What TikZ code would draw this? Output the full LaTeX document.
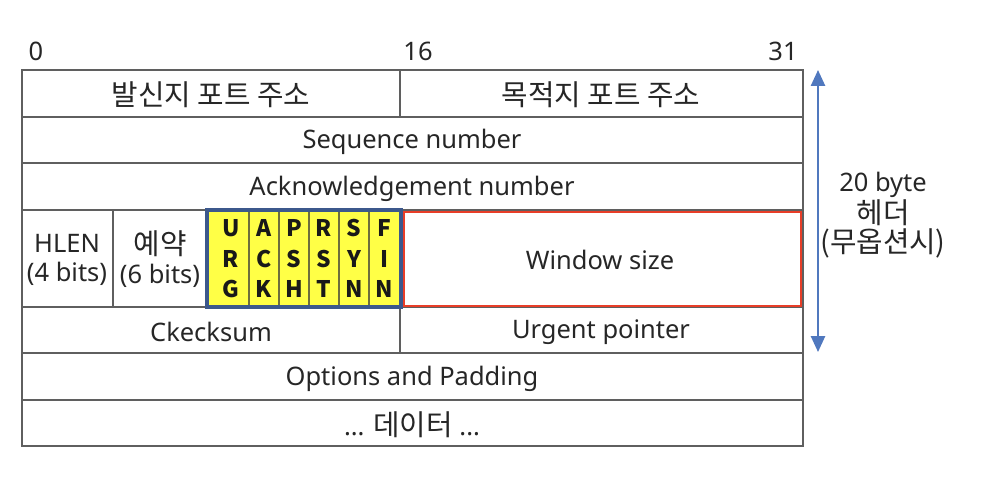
\documentclass[tikz,border=0pt]{standalone}
\usepackage{fontspec}
\setmainfont{Noto Sans}
\newfontfamily\kr{Noto Sans CJK KR}[Scale=1.13]
\newfontfamily\flagfont{Noto Sans CJK KR}
\usetikzlibrary{arrows.meta}
\definecolor{gridgray}{RGB}{95,95,95}
\definecolor{flagblue}{RGB}{60,88,140}
\definecolor{flagline}{RGB}{110,110,60}
\definecolor{flagyellow}{RGB}{255,255,70}
\definecolor{winred}{RGB}{232,62,40}
\definecolor{arrowblue}{RGB}{80,120,190}

\begin{document}
\begin{tikzpicture}[x=0.02cm,y=-0.02cm,
  txt/.style={font=\fontsize{14.5}{16.5}\selectfont, text=black!85, align=center},
  flag/.style={font=\flagfont\bfseries\fontsize{13}{14}\selectfont, text=black!90}]
  \useasboundingbox (0,0) rectangle (996,488);
  % header grid
  \draw[gridgray,line width=1.1pt] (22,70) rectangle (803,446);
  \foreach \y in {117,163,210,307,353,400}
    \draw[gridgray,line width=1.1pt] (22,\y) -- (803,\y);
  \draw[gridgray,line width=1.1pt] (400,70) -- (400,117);
  \draw[gridgray,line width=1.1pt] (113,210) -- (113,307);
  \draw[gridgray,line width=1.1pt] (400,307) -- (400,353);
  % flags
  \fill[flagyellow] (207,210) rectangle (400,307);
  \foreach \x in {249,279,309,339,369}
    \draw[flagline,line width=0.9pt] (\x,212) -- (\x,305);
  \draw[flagblue,line width=1.8pt] (207,210) rectangle (401,307);
  \foreach \x/\a/\b/\c [count=\i] in {231/U/R/G,264/A/C/K,294/P/S/H,324/R/S/T,354/S/Y/N,384/F/I/N}{
    \node[flag] (f\i a) at (\x,228) {\a};
    \node[flag] (f\i b) at (\x,259) {\b};
    \node[flag] (f\i c) at (\x,289) {\c};
  }
  % window size
  \draw[winred,line width=1.5pt] (404,212) rectangle (801,306);
  % bit positions
  \node[txt] (b0) at (36,51) {0};
  \node[txt] (b16) at (418,51) {16};
  \node[txt] (b31) at (783,51) {31};
  % field labels
  \node[txt] (srcport) at (211,95) {\kr 발신지 포트 주소};
  \node[txt] (dstport) at (601,95) {\kr 목적지 포트 주소};
  \node[txt] (seqnum) at (412,142) {Sequence number};
  \node[txt] (acknum) at (412,189) {Acknowledgement number};
  \node[txt] (hlen) at (67,260) {HLEN\\(4 bits)};
  \node[txt] (resv) at (160,259) {{\kr 예약}\\(6 bits)};
  \node[txt] (window) at (600,260) {Window size};
  \node[txt] (cksum) at (211,332) {Ckecksum};
  \node[txt] (urgent) at (601,332) {Urgent pointer};
  \node[txt] (options) at (412,379) {Options and Padding};
  \node[txt] (data) at (412,425) {... {\kr 데이터} ...};
  % header length
  \coordinate (htop) at (818,70);
  \coordinate (hbot) at (818,352);
  \draw[arrowblue,line width=1.1pt,{Triangle[width=8pt,length=9pt]}-{Triangle[width=8pt,length=9pt]}] (htop) -- (hbot);
  \node[txt] (hsize) at (883,215) {20 byte\\{\kr 헤더}\\{\kr (무옵션시)}};
\end{tikzpicture}
\end{document}
